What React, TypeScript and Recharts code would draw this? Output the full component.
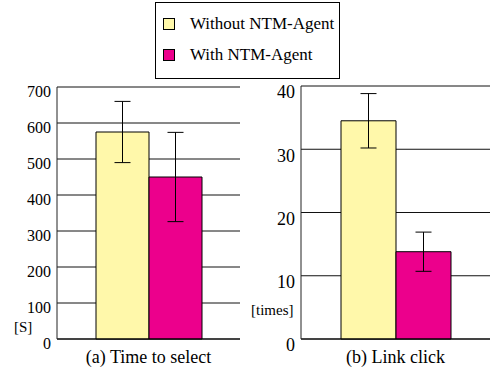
import React from 'react';
import { BarChart, Bar, XAxis, YAxis, CartesianGrid, ErrorBar } from 'recharts';

const SERIES = ['Without NTM-Agent', 'With NTM-Agent'];
const COLORS = ['#FFF8AA', '#EC008C'];

const TIME_LABEL = ['(a) Time to select'];
const TIME_MEAN = [575, 450];
const TIME_ERR = [85, 124];
const TIME_TICKS = [0, 100, 200, 300, 400, 500, 600, 700];

const CLICK_LABEL = ['(b) Link click'];
const CLICK_MEAN = [34.5, 13.8];
const CLICK_ERR = [4.3, 3.1];
const CLICK_TICKS = [0, 10, 20, 30, 40];

const FONT = '"Liberation Serif", "DejaVu Serif", serif';

const buildRows = (labels: string[], means: number[], errs: number[]) =>
  labels.map(name => ({ name, v0: means[0], v1: means[1], e0: errs[0], e1: errs[1] }));

interface PanelProps {
  left: number;
  width: number;
  top: number;
  right: number;
  axisWidth: number;
  tickFont: number;
  tickDy: number;
  barSize: number;
  rows: ReturnType<typeof buildRows>;
  ticks: number[];
  rightBorder: boolean;
}

const Panel: React.FC<PanelProps> = p => {
  const domain: [number, number] = [0, p.ticks[p.ticks.length - 1]];
  return (
    <div style={{ position: 'absolute', left: p.left, top: 0 }}>
      <BarChart
        width={p.width}
        height={375}
        data={p.rows}
        margin={{ top: p.top, right: p.right, bottom: 6, left: 0 }}
        barGap={0}
        barSize={p.barSize}
      >
        <CartesianGrid vertical={false} stroke="#111" />
        <XAxis
          dataKey="name"
          axisLine={{ stroke: '#000' }}
          tickLine={false}
          tickSize={9}
          tickMargin={2}
          height={30}
          tick={{ fill: '#000', fontSize: 18, fontFamily: FONT }}
        />
        <YAxis
          domain={domain}
          ticks={p.ticks}
          interval={0}
          width={p.axisWidth}
          axisLine={{ stroke: '#222' }}
          tickLine={false}
          tickSize={4}
          tickMargin={2}
          tick={{ fill: '#000', fontSize: p.tickFont, fontFamily: FONT, dy: p.tickDy }}
        />
        {p.rightBorder && (
          <YAxis
            yAxisId="border"
            orientation="right"
            domain={domain}
            width={0}
            tick={false}
            tickLine={false}
            axisLine={{ stroke: '#999' }}
          />
        )}
        {SERIES.map((s, i) => (
          <Bar
            key={s}
            dataKey={`v${i}`}
            name={s}
            fill={COLORS[i]}
            stroke="#000"
            strokeWidth={1}
            isAnimationActive={false}
          >
            <ErrorBar dataKey={`e${i}`} width={8} stroke="#000" strokeWidth={1} direction="y" isAnimationActive={false} />
          </Bar>
        ))}
      </BarChart>
    </div>
  );
};

const App: React.FC = () => {
  return (
    <div
      style={{
        position: 'absolute',
        left: 0,
        top: 0,
        width: 490,
        height: 375,
        background: '#fff',
        overflow: 'hidden',
        fontFamily: FONT,
      }}
    >
      <Panel
        left={0}
        width={250}
        top={87}
        right={10}
        axisWidth={57}
        tickFont={16}
        tickDy={4}
        barSize={53}
        rows={buildRows(TIME_LABEL, TIME_MEAN, TIME_ERR)}
        ticks={TIME_TICKS}
        rightBorder
      />
      <Panel
        left={240}
        width={250}
        top={86}
        right={0}
        axisWidth={61}
        tickFont={18}
        tickDy={6}
        barSize={55}
        rows={buildRows(CLICK_LABEL, CLICK_MEAN, CLICK_ERR)}
        ticks={CLICK_TICKS}
        rightBorder={false}
      />
      <div style={{ position: 'absolute', left: 14, top: 318, fontSize: 15, lineHeight: '18px' }}>[S]</div>
      <div style={{ position: 'absolute', left: 251, top: 301, fontSize: 15, lineHeight: '18px' }}>[times]</div>
      <div
        style={{
          position: 'absolute',
          left: 155,
          top: 2,
          width: 185,
          height: 77,
          boxSizing: 'border-box',
          border: '1px solid #000',
          background: '#fff',
        }}
      >
        {SERIES.map((s, i) => (
          <div
            key={s}
            style={{ position: 'absolute', left: 7, top: 12 + i * 31, height: 18, display: 'flex', alignItems: 'center' }}
          >
            <span
              style={{
                display: 'inline-block',
                width: 12,
                height: 12,
                boxSizing: 'border-box',
                border: '1px solid #000',
                background: COLORS[i],
              }}
            />
            <span style={{ marginLeft: 15, fontSize: 17, lineHeight: '18px' }}>{s}</span>
          </div>
        ))}
      </div>
    </div>
  );
};

export default App;
